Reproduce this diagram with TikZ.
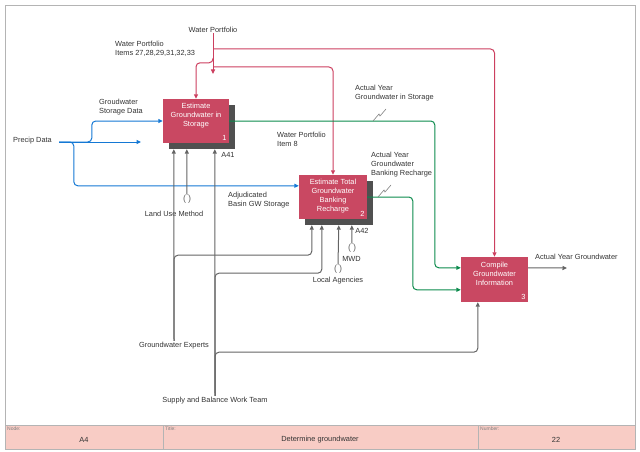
\documentclass[tikz,border=0pt]{standalone}
\usepackage{fontspec}
\setmainfont{Liberation Sans}
\usetikzlibrary{arrows.meta,positioning,calc,shadows}
\definecolor{gwred}    {HTML}{C94862}
\definecolor{gwline}   {HTML}{CC3F5F}
\definecolor{gwblue}   {HTML}{1478D4}
\definecolor{gwgreen}  {HTML}{0B8A4C}
\definecolor{gwgray}   {HTML}{646464}
\definecolor{gwshadow} {HTML}{505050}
\definecolor{gwink}    {HTML}{333333}
\definecolor{gwfoot}   {HTML}{F8CCC5}
\definecolor{gwrule}   {HTML}{B4B4B4}
\newcommand{\gwfont}{\fontsize{7.4}{9}\selectfont}
\newcommand{\gwtiny}{\fontsize{5}{6}\selectfont}
\tikzset{
  gwbox/.style={fill=gwred, minimum width=66pt, minimum height=44pt, inner sep=0pt},
  gwshade/.style={drop shadow={shadow xshift=6pt, shadow yshift=-6pt,
                  fill=gwshadow, opacity=1}},
  gwtitle/.style={font=\gwfont, text=white, align=center, inner sep=0pt},
  gwnum/.style={font=\gwfont, text=white, inner sep=2.5pt},
  gwtext/.style={font=\gwfont, text=gwink, align=left, inner sep=0pt},
  gwmlbl/.style={gwtext, align=center, inner sep=1.5pt},
  gwtunnel/.style={font=\fontsize{9}{9}\selectfont, text=gwgray, inner sep=0pt},
  gwfield/.style={font=\gwtiny, text=gray, anchor=north west, inner sep=0pt},
  gwvalue/.style={font=\gwfont, text=gwink, inner sep=0pt},
  gwtip/.style={-{Triangle[length=4.5pt,width=4pt]}},
  gwctl/.style={gwtip, draw=gwline, line width=1pt, rounded corners=4pt},
  gwin/.style={gwtip, draw=gwblue, line width=1pt, rounded corners=4pt},
  gwout/.style={gwtip, draw=gwgreen, line width=1pt, rounded corners=4pt},
  gwmech/.style={gwtip, draw=gwgray, line width=1pt, rounded corners=4pt},
  gwsquig/.style={draw=gray, line width=0.6pt},
}

\begin{document}
\begin{tikzpicture}[x=1pt,y=-1pt]
  \useasboundingbox (0,0) rectangle (640,452);
  % frame and title block
  \fill[gwfoot] (5,425) rectangle (635,449);
  \draw[gwrule] (5,5) rectangle (635,449);
  \draw[gwrule] (5,425) -- (635,425);
  \foreach \x in {163,478}
    {\draw[gwrule] (\x,425) -- (\x,449);}
  \node[gwfield] (f-node) at (7,427) {Node:};
  \node[gwfield] (f-title) at (165,427) {Title:};
  \node[gwfield] (f-num) at (480,427) {Number:};
  \node[gwvalue] (v-node) at (84,440) {A4};
  \node[gwvalue] (v-title) at (320,440) {Determine groundwater};
  \node[gwvalue] (v-num) at (556,440) {22};

  % activities
  \node[gwbox, gwshade] (est) at (196,121) {};
  \node[gwbox, gwshade, minimum width=68pt] (bank) at (333,197) {};
  \node[gwbox, minimum width=67pt, minimum height=45pt] (comp) at (494.5,279.5) {};
  \node[gwtitle, below=4pt of est.north] (est-t) {Estimate\\Groundwater in\\Storage};
  \node[gwtitle, below=4pt of bank.north] (bank-t) {Estimate Total\\Groundwater\\Banking\\Recharge};
  \node[gwtitle, below=5pt of comp.north] (comp-t) {Compile\\Groundwater\\Information};
  \node[gwnum, anchor=south east] (est-n) at (est.south east) {1};
  \node[gwnum, anchor=south east] (bank-n) at (bank.south east) {2};
  \node[gwnum, anchor=south east] (comp-n) at (comp.south east) {3};
  \node[gwtext] (est-id) at (228,155) {A41};
  \node[gwtext] (bank-id) at (362,231) {A42};

  % labels
  \node[gwtext] (wp) at (213,30) {Water Portfolio};
  \node[gwtext, anchor=west] (wp-items) at (115,48.5) {Water Portfolio\\Items 27,28,29,31,32,33};
  \node[gwtext, anchor=west] (gsd) at (99,107.5) {Groudwater\\Storage Data};
  \node[gwtext, anchor=west] (pd) at (13,141) {Precip Data};
  \node[gwtext, anchor=west] (wp-8) at (277,139.5) {Water Portfolio\\Item 8};
  \node[gwtext, anchor=west] (ays) at (355,93.5) {Actual Year\\Groundwater in Storage};
  \node[gwtext, anchor=west] (ayb) at (371,165) {Actual Year\\Groundwater\\Banking Recharge};
  \node[gwtext, anchor=west] (abs) at (228,200.5) {Adjudicated\\Basin GW Storage};
  \node[gwtext, anchor=west] (ayg) at (535,257) {Actual Year Groundwater};
  \node[gwmlbl] (lum) at (174,214) {Land Use Method};
  \node[gwmlbl] (ge) at (174,346) {Groundwater Experts};
  \node[gwmlbl] (sb) at (215,401) {Supply and Balance Work Team};
  \node[gwmlbl] (la) at (338,281) {Local Agencies};
  \node[gwmlbl] (mwd) at (351.5,259) {MWD};
  \node[gwtunnel] (lum-t) at (187,199) {(\hspace{2pt})};
  \node[gwtunnel] (la-t) at (338,269) {(\hspace{2pt})};
  \node[gwtunnel] (mwd-t) at (352,248) {(\hspace{2pt})};

  % ports
  \coordinate (wp-a) at (213,49);
  \coordinate (wp-b) at (213,58);
  \coordinate (wp-c) at (213,67);
  \coordinate (wp-end) at (213,74);
  \coordinate (pd-a) at (59,142);
  \coordinate (pd-end) at (141,142);
  \coordinate (out-a) at ($(comp.north east)+(0,11)$);
  \coordinate (out-end) at (567,268);
  \coordinate (comp-m) at ($(comp.south west)+(17,0)$);
  \foreach \n/\d in {a/11,b/24,c/52}
    {\coordinate (est-\n) at ($(est.south west)+(\d,6)$);}
  \foreach \n/\d in {a/13,b/23,c/40,d/53}
    {\coordinate (bank-\n) at ($(bank.south west)+(\d,6)$);}

  % controls
  \draw[gwctl] (wp.south) -- (wp-end);
  \draw[gwctl] (wp-a) -| (comp.north);
  \draw[gwctl] (wp-c) -| (bank.north);
  \draw[gwctl] (wp-b) |- ($(est.north)+(0,-36)$) -- (est.north);

  % inputs
  \draw[gwin] (pd-a) -- (pd-end);
  \draw[gwin] (pd-a) -| ($(est.west)+(-71,0)$) -- (est.west);
  \draw[gwin] (pd-a) -| ($(bank.north west)+(-225,11)$) -- ($(bank.north west)+(0,11)$);

  % outputs
  \draw[gwout] (est.east) -| ($(comp.north west)+(-26,11)$) -- ($(comp.north west)+(0,11)$);
  \draw[gwout] (bank.east) -| ($(comp.north west)+(-48,33)$) -- ($(comp.north west)+(0,33)$);
  \draw[gwmech] (out-a) -- (out-end);
  \foreach \p in {(373,121),(378,197)}
    {\draw[gwsquig] \p -- ++(6,-7) -- ++(1,2) -- ++(6,-7);}

  % mechanisms
  \draw[gwmech] (ge.north) -- (est-a);
  \draw[gwmech] (lum-t.north) -- (est-b);
  \draw[gwmech] (sb.north) -- (est-c);
  \draw[gwmech] (ge.north) |- ($(bank-a)+(0,30)$) -- (bank-a);
  \draw[gwmech] (sb.north) |- ($(bank-b)+(0,48)$) -- (bank-b);
  \draw[gwmech] (la-t.north) -- (bank-c);
  \draw[gwmech] (mwd-t.north) -- (bank-d);
  \draw[gwmech] (sb.north) |- ($(comp-m)+(0,50)$) -- (comp-m);
\end{tikzpicture}
\end{document}
